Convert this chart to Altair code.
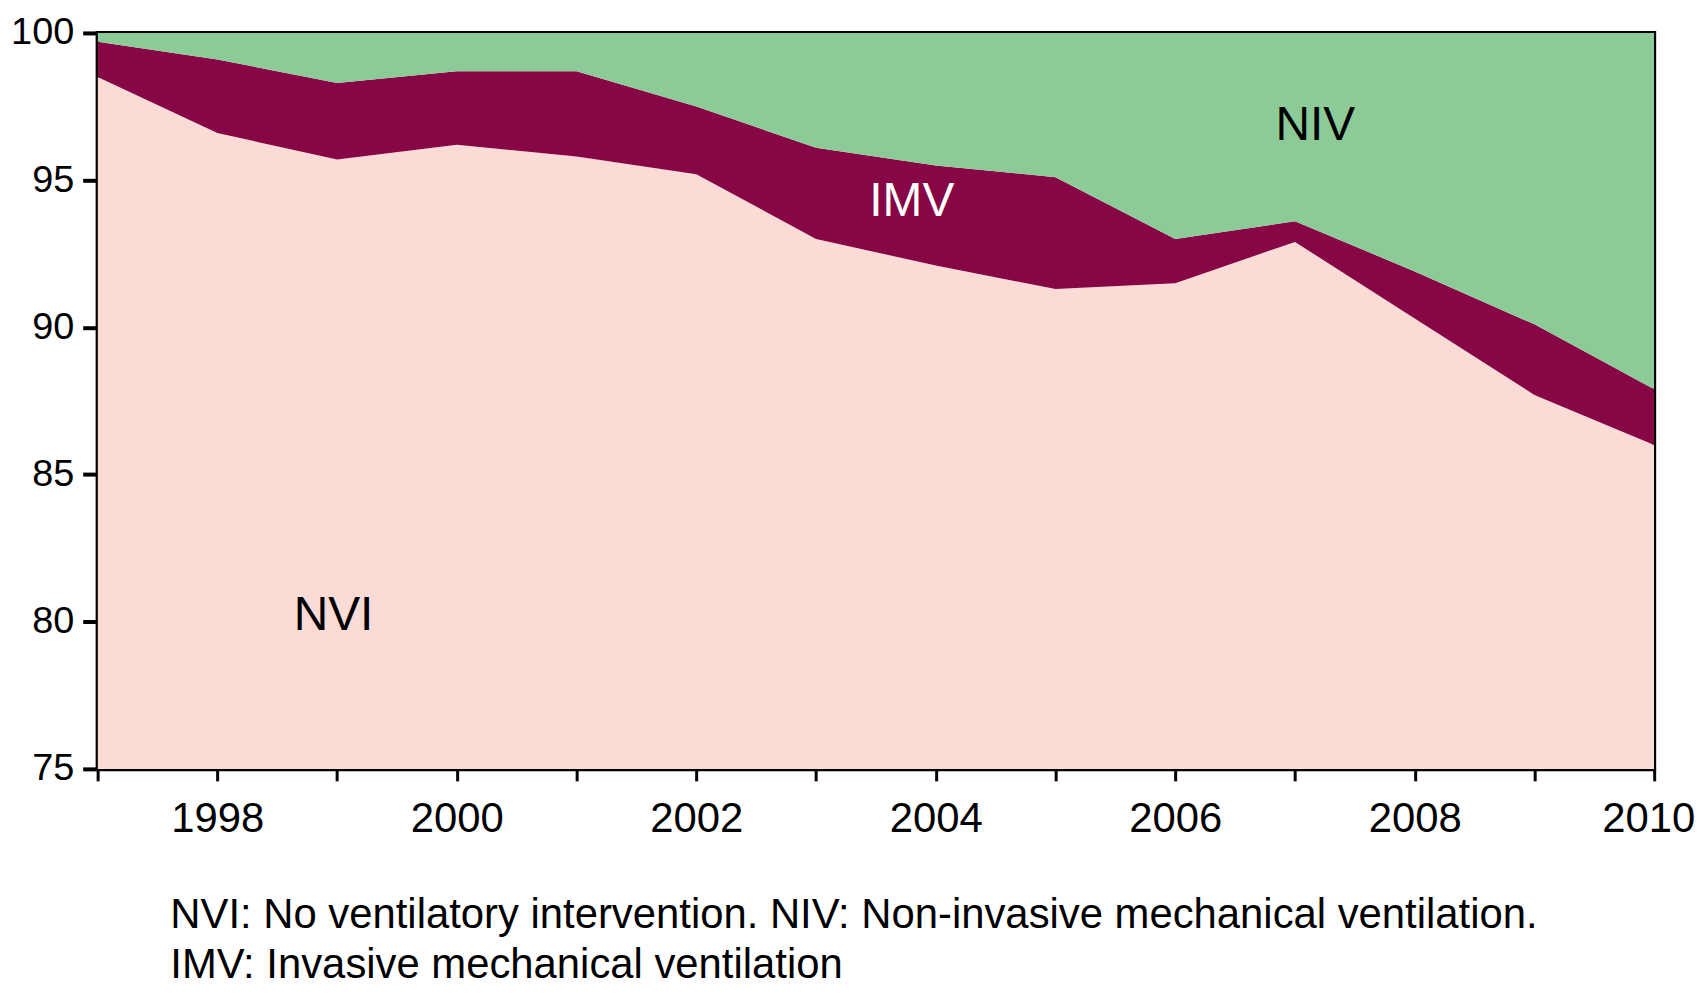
import altair as alt
import pandas as pd

# years and stacked shares (%)
years = list(range(1997, 2011))
nvi = [98.5, 96.6, 95.7, 96.2, 95.8, 95.2, 93.0, 92.1, 91.3, 91.5, 92.9, 90.3, 87.7, 86.0]
imv = [1.2, 2.5, 2.6, 2.5, 2.9, 2.3, 3.1, 3.4, 3.8, 1.5, 0.7, 1.6, 2.4, 1.9]
niv = [0.3, 0.9, 1.7, 1.3, 1.3, 2.5, 3.9, 4.5, 4.9, 7.0, 6.4, 8.1, 9.9, 12.1]

groups = ["NVI", "IMV", "NIV"]
colors = ["#fadbd6", "#870645", "#8ccb97"]

# in-plot labels
label_text = ["NVI", "IMV", "NIV"]
label_year = [1998.97, 2003.8, 2007.17]
label_value = [80.2, 94.25, 96.85]
label_color = ["black", "white", "black"]

rows = []
for k, (name, vals) in enumerate(zip(groups, [nvi, imv, niv])):
    for yr, v in zip(years, vals):
        rows.append({"year": yr, "share": v, "group": name, "k": k})
df = pd.DataFrame(rows)

labels = pd.DataFrame(
    {"text": label_text, "year": label_year, "share": label_value, "c": label_color}
)

FONT = "Liberation Sans"

x_scale = alt.Scale(domain=[1997, 2010], nice=False, zero=False)
y_scale = alt.Scale(domain=[75, 100], nice=False, zero=False)

areas = (
    alt.Chart(df)
    .mark_area(clip=True, interpolate="linear")
    .encode(
        x=alt.X(
            "year:Q",
            scale=x_scale,
            title=None,
            axis=alt.Axis(
                values=years,
                format="d",
                labelExpr="datum.value % 2 == 0 ? datum.label : ''",
                labelFlush=False,
                labelOverlap=False,
                labelBound=False,
                labelOffset={"condition": {"test": "datum.value == 2010", "value": -6}, "value": 0},
                labelFontSize=42,
                tickSize=12,
                tickWidth=3,
                labelPadding=18,
                grid=False,
            ),
        ),
        y=alt.Y(
            "share:Q",
            stack="zero",
            scale=y_scale,
            title=None,
            axis=alt.Axis(
                values=[75, 80, 85, 90, 95, 100],
                tickSize=15,
                tickWidth=4,
                labelPadding=9,
                labelFontSize=38,
                grid=False,
            ),
        ),
        color=alt.Color(
            "group:N",
            scale=alt.Scale(domain=groups, range=colors),
            legend=None,
        ),
        order=alt.Order("k:Q"),
    )
)

text = (
    alt.Chart(labels)
    .mark_text(font=FONT, fontSize=48, align="center", baseline="middle")
    .encode(
        x=alt.X("year:Q", scale=x_scale),
        y=alt.Y("share:Q", scale=y_scale),
        text="text:N",
        color=alt.Color("c:N", scale=None, legend=None),
    )
)

chart = (
    alt.layer(areas, text)
    .properties(
        width=1563,
        height=739,
        autosize=alt.AutoSizeParams(type="none"),
        padding={"left": 90, "top": 23, "right": 42, "bottom": 220},
        title=alt.TitleParams(
            [
                "NVI: No ventilatory intervention. NIV: Non-invasive mechanical ventilation.",
                "IMV: Invasive mechanical ventilation",
            ],
            orient="bottom",
            anchor="start",
            frame="group",
            dx=73,
            offset=56,
            font=FONT,
            fontSize=42,
            fontWeight="normal",
            lineHeight=50,
            color="black",
        ),
    )
    .configure_view(stroke="black", strokeWidth=4)
    .configure_axis(
        domainColor="black",
        domainWidth=4,
        tickColor="black",
        labelColor="black",
        labelFont=FONT,
    )
)

chart.save("out.html", embed_options={"renderer": "svg", "actions": False})
